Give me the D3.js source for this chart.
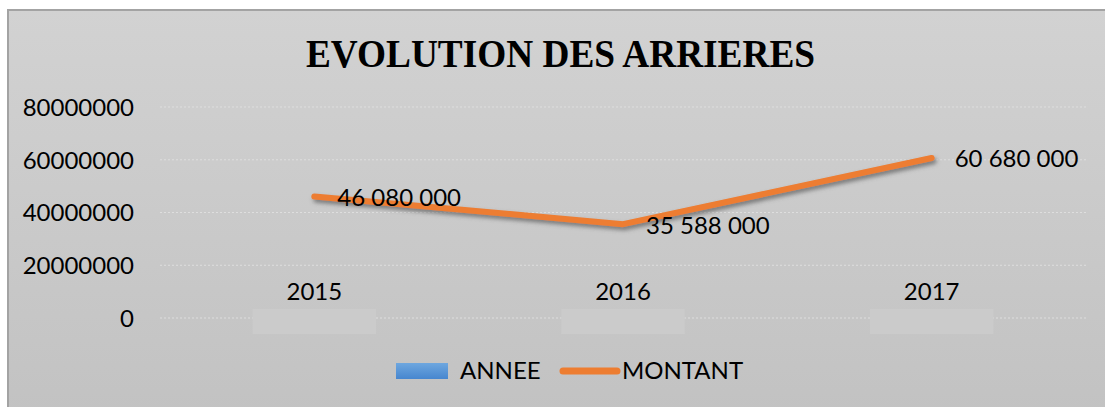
<!DOCTYPE html>
<html lang="fr">
<head>
<meta charset="utf-8">
<style>
  body { margin: 0; background: #fff; }
  .axis text { font: 24px Lato, sans-serif; fill: #000; }
  .axis path, .axis line { display: none; }
</style>
<script src="https://d3js.org/d3.v7.min.js"></script>
</head>
<body>
<script>
  let years = ["2015", "2016", "2017"];
  let annee = [2015, 2016, 2017];
  let montant = [46080000, 35588000, 60680000];
  let yTicks = [0, 20000000, 40000000, 60000000, 80000000];
  let montantLabels = ["46 080 000", "35 588 000", "60 680 000"];

  let W = 1105, H = 407;
  let plotLeft = 160, plotRight = 1086, plotTop = 107, plotBottom = 318;

  let svg = d3.select("body").append("svg")
    .attr("width", W)
    .attr("height", H);

  let defs = svg.append("defs");
  let bg = defs.append("linearGradient").attr("id", "bg")
    .attr("x1", 0).attr("y1", 0).attr("x2", 0).attr("y2", 1);
  bg.append("stop").attr("offset", "0%").attr("stop-color", "#d2d2d2");
  bg.append("stop").attr("offset", "100%").attr("stop-color", "#c2c2c2");

  let blue = defs.append("linearGradient").attr("id", "blue")
    .attr("x1", 0).attr("y1", 0).attr("x2", 0).attr("y2", 1);
  blue.append("stop").attr("offset", "0%").attr("stop-color", "#6ea7df");
  blue.append("stop").attr("offset", "100%").attr("stop-color", "#4686cf");

  let shadow = defs.append("filter").attr("id", "shadow")
    .attr("x", "-10%").attr("y", "-50%").attr("width", "120%").attr("height", "200%");
  shadow.append("feDropShadow")
    .attr("dx", 2).attr("dy", 3).attr("stdDeviation", 2)
    .attr("flood-color", "#555").attr("flood-opacity", 0.7);

  // chart area
  svg.append("rect")
    .attr("x", 8).attr("y", 10)
    .attr("width", W).attr("height", H)
    .attr("fill", "url(#bg)")
    .attr("stroke", "#a3a3a3")
    .attr("stroke-width", 2);

  svg.append("text")
    .attr("x", 306).attr("y", 67)
    .attr("textLength", 509)
    .attr("lengthAdjust", "spacingAndGlyphs")
    .style("font", "bold 40px 'Liberation Serif', 'Times New Roman', serif")
    .text("EVOLUTION DES ARRIERES");

  let x = d3.scaleBand()
    .domain(years)
    .range([plotLeft, plotRight]);

  let y = d3.scaleLinear()
    .domain([0, 80000000])
    .range([plotBottom, plotTop]);

  // gridlines
  svg.append("g")
    .selectAll("line")
    .data(yTicks)
    .join("line")
    .attr("x1", plotLeft).attr("x2", plotRight)
    .attr("y1", d => y(d)).attr("y2", d => y(d))
    .attr("stroke", "#dedede")
    .attr("stroke-width", 1)
    .attr("stroke-dasharray", "2,2");

  svg.append("g")
    .attr("class", "axis")
    .attr("transform", "translate(" + (plotLeft - 26) + ",0)")
    .call(d3.axisLeft(y).tickValues(yTicks).tickFormat(d3.format("d")).tickSize(0).tickPadding(0))
    .selectAll("text")
    .attr("dy", "0.35em");

  // ANNEE bars (tiny values, drawn as faint blocks at zero)
  let barW = x.bandwidth() * 0.4;
  svg.append("g")
    .selectAll("rect")
    .data(annee)
    .join("rect")
    .attr("x", (d, i) => x(years[i]) + x.bandwidth() / 2 - barW / 2)
    .attr("y", d => y(d) - 9)
    .attr("width", barW)
    .attr("height", 25)
    .attr("fill", "#cbcbcb");

  svg.append("g")
    .selectAll("text")
    .data(annee)
    .join("text")
    .attr("x", (d, i) => x(years[i]) + x.bandwidth() / 2)
    .attr("y", d => y(d) - 26)
    .attr("dy", "0.35em")
    .attr("text-anchor", "middle")
    .style("font", "24px Lato, sans-serif")
    .text(d => d);

  // MONTANT line
  let line = d3.line()
    .x((d, i) => x(years[i]) + x.bandwidth() / 2)
    .y(d => y(d));

  svg.append("path")
    .datum(montant)
    .attr("d", line)
    .attr("fill", "none")
    .attr("stroke", "#ed7d31")
    .attr("stroke-width", 6)
    .attr("stroke-linecap", "round")
    .attr("stroke-linejoin", "round")
    .attr("filter", "url(#shadow)");

  svg.append("g")
    .selectAll("text")
    .data(montant)
    .join("text")
    .attr("x", (d, i) => x(years[i]) + x.bandwidth() / 2 + 23)
    .attr("y", d => y(d) + 1)
    .attr("dy", "0.35em")
    .style("font", "24px Lato, sans-serif")
    .text((d, i) => montantLabels[i]);

  // legend
  let legend = svg.append("g");
  legend.append("rect")
    .attr("x", 396).attr("y", 363)
    .attr("width", 52).attr("height", 16)
    .attr("fill", "url(#blue)");
  legend.append("text")
    .attr("x", 460).attr("y", 371).attr("dy", "0.35em")
    .style("font", "24px Lato, sans-serif")
    .text("ANNEE");
  legend.append("line")
    .attr("x1", 563).attr("x2", 617)
    .attr("y1", 371).attr("y2", 371)
    .attr("stroke", "#ed7d31")
    .attr("stroke-width", 7)
    .attr("stroke-linecap", "round");
  legend.append("text")
    .attr("x", 622).attr("y", 371).attr("dy", "0.35em")
    .style("font", "24px Lato, sans-serif")
    .text("MONTANT");
</script>
</body>
</html>
